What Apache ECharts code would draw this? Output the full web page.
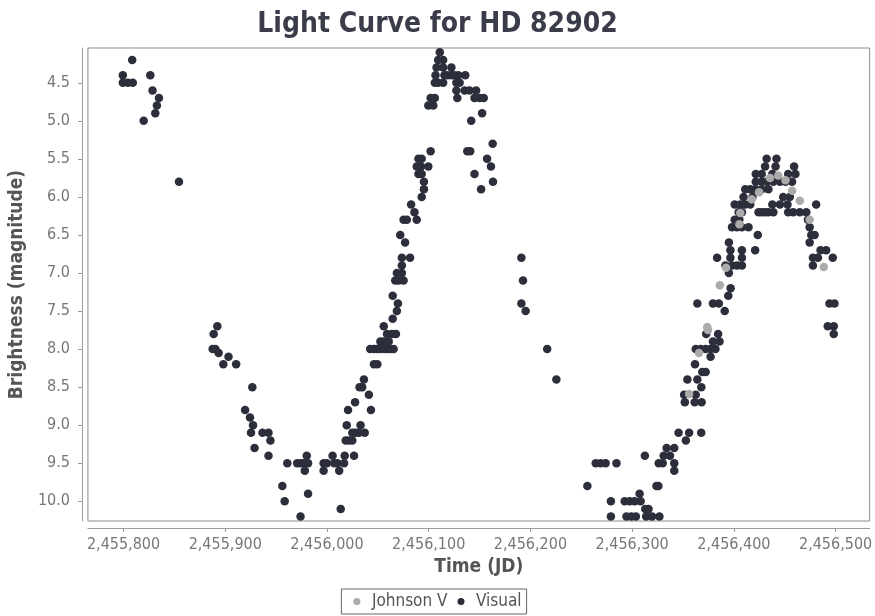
<!DOCTYPE html>
<html>
<head>
<meta charset="utf-8">
<title>Light Curve for HD 82902</title>
<script src="https://cdn.jsdelivr.net/npm/echarts@6/dist/echarts.min.js"></script>
<style>
  html, body { margin: 0; padding: 0; background: #ffffff; }
  #chart { width: 875px; height: 616px; }
</style>
</head>
<body>
<div id="chart"></div>
<script>
// Visual estimates: [Julian Date, magnitude]
const visualObs = [
  // early bright phase
  [2455799.3,4.4],[2455799.3,4.5],[2455804.2,4.5],[2455809.1,4.5],[2455808.5,4.2],[2455826.3,4.4],
  [2455828.5,4.6],[2455834.8,4.7],[2455832.8,4.8],[2455831.2,4.9],[2455819.8,5.0],[2455854.5,5.8],
  // decline to first minimum
  [2455887.6,8.0],[2455890.3,8.0],[2455888.6,7.8],[2455892.2,7.7],[2455893.5,8.05],[2455898.1,8.2],
  [2455903.2,8.1],[2455910.7,8.2],[2455919.5,8.8],[2455926.6,8.5],[2455924.3,8.9],[2455927.3,9.0],
  [2455925.3,9.1],[2455928.8,9.3],[2455936.6,9.1],[2455942.5,9.1],[2455944.4,9.2],[2455942.5,9.4],
  [2455956.1,9.8],[2455958.4,10.0],[2455961.0,9.5],[2455970.7,9.5],[2455974.0,9.5],[2455977.2,9.5],
  [2455981.4,9.5],[2455980.1,9.4],[2455978.2,9.6],[2455974.0,10.2],[2455981.4,9.9],
  // minimum and rise
  [2455996.7,9.6],[2455996.7,9.5],[2455999.9,9.5],[2456005.5,9.4],[2456007.1,9.5],[2456010.3,9.5],
  [2456012.0,9.6],[2456013.5,10.1],[2456016.8,9.5],[2456017.4,9.4],[2456019.4,9.0],[2456020.7,8.8],
  [2456018.4,9.2],[2456021.7,9.2],[2456024.9,9.2],[2456027.6,8.7],[2456026.6,9.4],[2456024.9,9.1],
  [2456028.1,9.1],[2456031.4,9.1],[2456037.1,9.1],[2456032.0,8.5],[2456033.0,9.0],[2456043.2,8.8],
  [2456034.6,8.5],[2456036.3,8.4],[2456041.2,8.6],[2456046.2,8.2],[2456049.5,8.2],
  [2456042.5,8.0],[2456046.3,8.0],[2456049.3,8.0],[2456052.2,8.0],[2456056.1,8.0],[2456059.0,8.0],
  [2456061.9,8.0],[2456065.5,8.0],[2456052.5,7.9],[2456055.8,7.9],[2456060.7,7.9],
  [2456059.0,7.8],[2456063.9,7.8],[2456067.8,7.8],[2456055.8,7.7],[2456064.6,7.6],[2456068.7,7.5],
  [2456069.7,7.4],[2456064.6,7.3],[2456067.1,7.1],[2456070.4,7.1],[2456075.3,7.1],
  [2456068.7,7.0],[2456073.6,7.0],[2456073.6,6.9],[2456073.6,6.8],[2456081.7,6.8],[2456076.8,6.6],
  [2456072.0,6.5],[2456075.3,6.3],[2456078.5,6.3],[2456088.2,6.3],[2456086.0,6.2],[2456082.7,6.1],
  [2456093.1,6.0],[2456095.3,5.9],[2456095.3,5.8],[2456089.9,5.7],[2456093.1,5.7],
  [2456088.2,5.6],[2456092.4,5.6],[2456099.6,5.6],[2456089.9,5.5],[2456093.1,5.5],[2456101.9,5.4],
  // maximum
  [2456099.6,4.8],[2456104.5,4.8],[2456101.9,4.7],[2456106.0,4.7],
  [2456106.0,4.5],[2456109.3,4.5],[2456114.2,4.5],
  [2456106.7,4.4],[2456115.5,4.4],[2456118.4,4.4],[2456122.3,4.4],[2456125.2,4.4],[2456129.1,4.4],[2456135.9,4.4],
  [2456107.7,4.3],[2456114.2,4.3],[2456122.3,4.3],[2456109.3,4.2],[2456114.2,4.2],[2456110.9,4.1],
  [2456127.2,4.5],[2456130.4,4.5],
  [2456127.2,4.6],[2456135.3,4.6],[2456140.1,4.6],[2456146.6,4.6],
  [2456128.1,4.7],[2456145.0,4.7],[2456149.9,4.7],[2456154.1,4.7],
  [2456152.5,4.9],[2456141.8,5.0],[2456162.9,5.3],[2456137.9,5.4],[2456140.8,5.4],[2456157.4,5.5],
  [2456161.2,5.6],[2456145.0,5.7],[2456163.2,5.8],[2456151.5,5.9],
  // second decline
  [2456191.1,6.8],[2456192.7,7.1],[2456191.1,7.4],[2456195.3,7.5],[2456216.5,8.0],[2456225.5,8.4],
  // second minimum
  [2456256.0,9.8],[2456264.2,9.5],[2456269.0,9.5],[2456273.9,9.5],[2456284.6,9.5],
  [2456279.1,10.0],[2456279.1,10.2],
  [2456292.7,10.0],[2456297.6,10.0],[2456302.4,10.0],[2456308.3,10.0],
  [2456294.4,10.2],[2456299.2,10.2],[2456303.7,10.2],[2456313.8,10.2],[2456319.6,10.2],[2456326.8,10.2],
  [2456307.3,9.9],[2456312.9,10.1],[2456316.1,10.1],[2456323.9,9.8],[2456325.8,9.8],
  [2456312.5,9.4],[2456331.0,9.4],[2456337.2,9.4],
  [2456326.1,9.5],[2456330.0,9.5],[2456341.4,9.5],[2456341.4,9.6],
  [2456333.9,9.3],[2456341.4,9.3],
  // second rise
  [2456345.6,9.1],[2456356.0,9.1],[2456367.9,9.1],[2456352.8,9.2],
  [2456351.8,8.7],[2456361.5,8.7],[2456368.3,8.7],[2456351.1,8.6],[2456362.5,8.6],
  [2456354.3,8.4],[2456364.1,8.4],[2456368.0,8.5],[2456361.8,8.2],[2456368.9,8.3],[2456372.3,8.3],
  [2456362.5,8.0],[2456367.4,8.0],[2456372.3,8.0],[2456377.1,8.0],[2456381.9,8.0],[2456377.1,8.1],
  [2456379.4,7.9],[2456385.9,7.9],[2456372.8,7.8],[2456384.5,7.8],
  [2456364.1,7.4],[2456379.4,7.4],[2456385.2,7.4],
  [2456391.0,7.5],[2456394.5,7.3],[2456396.8,7.2],[2456395.1,7.0],
  [2456391.7,6.9],[2456398.2,6.9],[2456403.0,6.9],[2456407.9,6.9],
  [2456383.5,6.8],[2456396.6,6.8],[2456407.9,6.8],
  [2456396.6,6.7],[2456407.9,6.7],[2456420.9,6.7],[2456395.1,6.6],[2456423.5,6.5],
  [2456398.2,6.4],[2456403.0,6.4],[2456407.9,6.4],[2456414.4,6.4],
  [2456400.8,6.3],[2456405.4,6.3],
  [2456404.7,6.2],[2456407.9,6.2],[2456424.2,6.2],[2456427.4,6.2],[2456430.7,6.2],[2456433.9,6.2],
  [2456438.8,6.2],[2456453.4,6.2],[2456458.3,6.2],[2456464.8,6.2],[2456471.2,6.2],
  [2456400.8,6.1],[2456406.3,6.1],[2456411.2,6.1],[2456416.1,6.1],[2456437.8,6.1],[2456445.3,6.1],
  [2456452.7,6.1],[2456480.9,6.1],
  [2456409.5,6.0],[2456418.3,6.0],[2456448.5,6.0],[2456455.0,6.0],
  [2456411.2,5.9],[2456416.1,5.9],[2456420.9,5.9],[2456427.4,5.9],[2456433.9,5.9],
  [2456421.5,5.8],[2456427.4,5.8],[2456432.2,5.8],[2456438.8,5.8],[2456445.3,5.8],[2456450.7,5.8],[2456457.2,5.8],
  [2456421.5,5.7],[2456427.4,5.7],[2456437.8,5.7],[2456453.4,5.7],[2456460.5,5.7],
  [2456430.7,5.6],[2456441.0,5.6],[2456459.2,5.6],[2456432.2,5.5],[2456441.9,5.5],
  // third decline
  [2456472.8,6.3],[2456474.5,6.4],[2456476.1,6.5],[2456479.4,6.5],[2456474.5,6.6],
  [2456485.2,6.7],[2456490.7,6.7],[2456477.7,6.8],[2456482.6,6.8],[2456497.2,6.8],[2456477.7,6.9],
  [2456494.0,7.4],[2456498.9,7.4],[2456492.3,7.7],[2456498.2,7.7],[2456498.2,7.8]
];

// Johnson V photometry: [Julian Date, magnitude]
const johnsonVObs = [
  [2456356.0,8.59],[2456365.7,8.05],[2456373.8,7.71],[2456374.5,7.75],[2456386.2,7.16],
  [2456392.3,6.93],[2456406.3,6.21],[2456405.4,6.36],[2456417.6,6.03],[2456424.8,5.94],
  [2456435.5,5.75],[2456443.6,5.72],[2456450.7,5.78],[2456457.3,5.92],[2456464.8,6.05],
  [2456474.5,6.30],[2456488.4,6.92]
];

// Axis tick positions
const jdTicks = [2455800, 2455900, 2456000, 2456100, 2456200, 2456300, 2456400, 2456500];
const magTicks = [4.5, 5.0, 5.5, 6.0, 6.5, 7.0, 7.5, 8.0, 8.5, 9.0, 9.5, 10.0];

const FONT = '"DejaVu Sans Condensed", "DejaVu Sans", sans-serif';
const chart = echarts.init(document.getElementById('chart'), null, { renderer: 'canvas' });

chart.setOption({
  animation: false,
  backgroundColor: '#ffffff',
  title: {
    text: 'Light Curve for HD 82902',
    left: 'center',
    top: 6,
    textStyle: { fontFamily: FONT, fontSize: 28, fontWeight: 'bold', color: '#3b3c4a' }
  },
  legend: {
    data: ['Johnson V', 'Visual'],
    left: 'center',
    top: 589,
    orient: 'horizontal',
    icon: 'circle',
    itemWidth: 20,
    itemHeight: 7,
    itemGap: 10,
    padding: [4, 5, 4, 12],
    borderColor: '#666',
    borderWidth: 1,
    textStyle: { fontFamily: FONT, fontSize: 17, color: '#555' }
  },
  grid: {
    left: 83, top: 48, right: 3, bottom: 95,
    show: true, borderColor: '#8c8c8c', borderWidth: 1, backgroundColor: '#ffffff'
  },
  xAxis: {
    type: 'value',
    min: 2455765,
    max: 2456533.5,
    offset: 7,
    name: 'Time (JD)',
    nameLocation: 'middle',
    nameGap: 30,
    nameTextStyle: { fontFamily: FONT, fontSize: 19, fontWeight: 'bold', color: '#555' },
    axisLine: { show: true, lineStyle: { color: '#9a9a9a' } },
    axisTick: { show: true, length: 4, lineStyle: { color: '#9a9a9a' }, customValues: jdTicks },
    axisLabel: {
      customValues: jdTicks,
      margin: 9,
      fontFamily: FONT, fontSize: 16, color: '#777',
      formatter: v => Math.round(v).toLocaleString('en-US')
    },
    splitLine: { show: false }
  },
  yAxis: {
    type: 'value',
    inverse: true,
    min: 4.043,
    max: 10.259,
    offset: 6,
    name: 'Brightness (magnitude)',
    nameLocation: 'middle',
    nameGap: 46,
    nameTextStyle: { fontFamily: FONT, fontSize: 19, fontWeight: 'bold', color: '#555' },
    axisLine: { show: true, lineStyle: { color: '#9a9a9a' } },
    axisTick: { show: true, length: 4, lineStyle: { color: '#9a9a9a' }, customValues: magTicks },
    axisLabel: {
      customValues: magTicks,
      margin: 12,
      fontFamily: FONT, fontSize: 16, color: '#777',
      formatter: v => v.toFixed(1)
    },
    splitLine: { show: false }
  },
  series: [
    {
      name: 'Visual',
      type: 'scatter',
      data: visualObs,
      symbol: 'circle',
      symbolSize: 8.5,
      itemStyle: { color: '#2d2e3b', opacity: 1 },
      emphasis: { disabled: true }
    },
    {
      name: 'Johnson V',
      type: 'scatter',
      data: johnsonVObs,
      symbol: 'circle',
      symbolSize: 8.5,
      itemStyle: { color: '#ababab', opacity: 1 },
      emphasis: { disabled: true }
    }
  ]
});
</script>
</body>
</html>
